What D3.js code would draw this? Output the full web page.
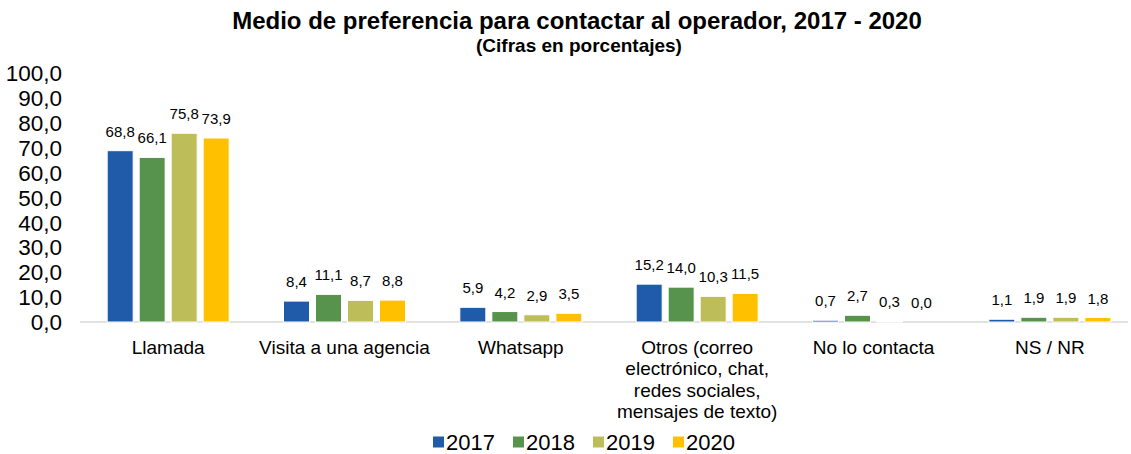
<!DOCTYPE html>
<html>
<head>
<meta charset="utf-8">
<script src="https://cdn.jsdelivr.net/npm/d3@7"></script>
<style>
  body { margin: 0; background: #fff; }
  text { font-family: "Liberation Sans", Arial, sans-serif; fill: #000; }
</style>
</head>
<body>
<div id="chart"></div>
<script>
var categories = ["Llamada", "Visita a una agencia", "Whatsapp",
    "Otros (correo|electrónico, chat,|redes sociales,|mensajes de texto)", "No lo contacta", "NS / NR"]
var years = ["2017", "2018", "2019", "2020"]
var v2017 = [68.8, 8.4, 5.9, 15.2, 0.7, 1.1]
var v2018 = [66.1, 11.1, 4.2, 14.0, 2.7, 1.9]
var v2019 = [75.8, 8.7, 2.9, 10.3, 0.3, 1.9]
var v2020 = [73.9, 8.8, 3.5, 11.5, 0.0, 1.8]
var yTicks = [0, 10, 20, 30, 40, 50, 60, 70, 80, 90, 100]
var colors = ["#1f5ba8", "#58934d", "#bdbd5a", "#ffc000"]

var series = [v2017, v2018, v2019, v2020]
var w = 1131, h = 454
var fmt = function(v) { return v.toFixed(1).replace(".", ",") }

var svg = d3.select("#chart").append("svg")
    .attr("width", w)
    .attr("height", h)

var x0 = d3.scaleBand().domain(categories).range([80, 1138])
var x1 = d3.scaleBand().domain(years).range([0, 122]).paddingInner(0.1875)
var y = d3.scaleLinear().domain([0, 100]).range([322, 73])

// title
svg.append("text").attr("x", 577).attr("y", 29)
    .attr("text-anchor", "middle").style("font-size", "24px").style("font-weight", "bold")
    .text("Medio de preferencia para contactar al operador, 2017 - 2020")
svg.append("text").attr("x", 579).attr("y", 52)
    .attr("text-anchor", "middle").style("font-size", "19px").style("font-weight", "bold")
    .text("(Cifras en porcentajes)")

// y axis labels
svg.selectAll(".ytick").data(yTicks).enter().append("text")
    .attr("class", "ytick")
    .attr("x", 62)
    .attr("y", d => y(d))
    .attr("dy", "0.36em")
    .attr("text-anchor", "end")
    .style("font-size", "22.5px")
    .text(fmt)

// baseline
svg.append("line").attr("x1", 80).attr("x2", 1128)
    .attr("y1", y(0)).attr("y2", y(0))
    .attr("stroke", "#d9d9d9").attr("stroke-width", 1.5)

var groups = svg.selectAll(".cat").data(categories).enter().append("g")
    .attr("class", "cat")
    .attr("transform", d => "translate(" + (x0(d) + x0.bandwidth() / 2 - 61) + ",0)")

groups.each(function(cat, ci) {
    var g = d3.select(this)
    years.forEach(function(yr, si) {
        var v = series[si][ci]
        if (v > 0) {
            g.append("rect")
                .attr("x", x1(yr))
                .attr("y", y(v))
                .attr("width", x1.bandwidth())
                .attr("height", y(0) - y(v))
                .attr("fill", colors[si])
                .attr("stroke", "#fff")
                .attr("stroke-width", 1)
        }
        g.append("text")
            .attr("x", x1(yr) + x1.bandwidth() / 2)
            .attr("y", y(v) - 14)
            .attr("text-anchor", "middle")
            .style("font-size", "15px")
            .text(fmt(v))
    })
    var lines = cat.split("|")
    var t = g.append("text")
        .attr("x", 61)
        .attr("y", 354)
        .attr("text-anchor", "middle")
        .style("font-size", "19px")
    lines.forEach(function(l, li) {
        t.append("tspan").attr("x", 61).attr("dy", li === 0 ? 0 : "1.13em").text(l)
    })
})

// legend
var leg = svg.selectAll(".leg").data(years).enter().append("g")
    .attr("class", "leg")
    .attr("transform", (d, i) => "translate(" + (433 + i * 80) + ",442)")
leg.append("rect").attr("x", 0).attr("y", -5.5).attr("width", 11).attr("height", 11)
    .attr("fill", (d, i) => colors[i])
leg.append("text").attr("x", 13).attr("y", 0).attr("dy", "0.36em")
    .style("font-size", "22px").text(d => d)
</script>
</body>
</html>
